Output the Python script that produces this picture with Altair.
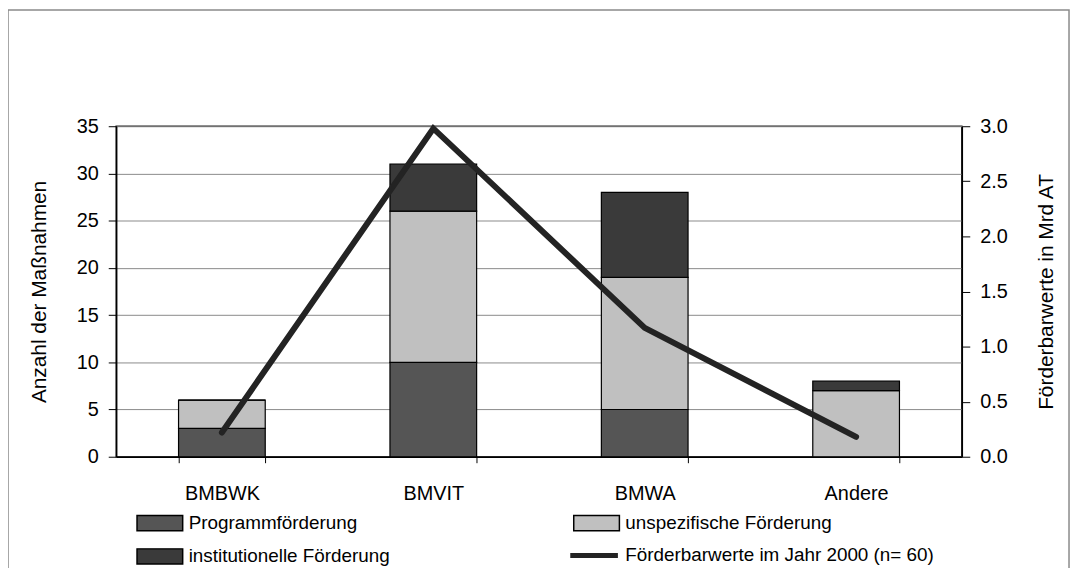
import altair as alt
import pandas as pd

categories = ["BMBWK", "BMVIT", "BMWA", "Andere"]
series = ["Programmförderung", "unspezifische Förderung", "institutionelle Förderung"]
legend_order = ["Programmförderung", "institutionelle Förderung", "unspezifische Förderung"]
series_colors = {"Programmförderung": "#555555", "unspezifische Förderung": "#c0c0c0",
                 "institutionelle Förderung": "#3a3a3a"}
programm = [3, 10, 5, 0]
unspezifisch = [3, 16, 14, 7]
institutionell = [0, 5, 9, 1]
barwerte = [0.22, 2.98, 1.17, 0.18]
line_name = "Förderbarwerte im Jahr 2000 (n= 60)"
left_ticks = [0, 5, 10, 15, 20, 25, 30, 35]
right_ticks = [0.0, 0.5, 1.0, 1.5, 2.0, 2.5, 3.0]

rows = []
for i, c in enumerate(categories):
    for k, (s, vals) in enumerate(zip(series, [programm, unspezifisch, institutionell])):
        rows.append({"kat": c, "serie": s, "anzahl": vals[i], "ord": k})
bars_df = pd.DataFrame(rows)
line_df = pd.DataFrame({"kat": categories, "wert": barwerte, "name": [line_name] * 4})

FONT = "Liberation Sans"
xscale = alt.Scale(domain=categories, paddingInner=0.59, paddingOuter=0.295)

bars = alt.Chart(bars_df).mark_bar(stroke="black", strokeWidth=1.2).encode(
    x=alt.X("kat:N", scale=xscale, sort=categories,
            axis=alt.Axis(title=None, labelAngle=0, tickBand="extent", tickSize=6,
                          labelPadding=21, labelFontSize=20, labelFont=FONT,
                          labelColor="black", domainColor="black", tickColor="black",
                          domainWidth=1.5, grid=False)),
    y=alt.Y("anzahl:Q", stack="zero", scale=alt.Scale(domain=[0, 35], nice=False),
            axis=alt.Axis(title="Anzahl der Maßnahmen", values=left_ticks, tickSize=8,
                          labelPadding=10, labelFontSize=20, labelFont=FONT,
                          labelColor="black", titleFontSize=21, titleFont=FONT,
                          titleFontWeight="normal", titleColor="black", titlePadding=27,
                          domainColor="black", domainWidth=1.5, tickColor="black",
                          grid=True, gridColor="#8a8a8a", gridWidth=1)),
    order=alt.Order("ord:Q"),
    color=alt.Color("serie:N",
                    scale=alt.Scale(domain=legend_order,
                                    range=[series_colors[s] for s in legend_order]),
                    legend=alt.Legend(title=None, orient="none", legendX=31.5, legendY=387,
                                      columns=2, columnPadding=181, rowPadding=10,
                                      symbolType="M-2,-0.667H2V0.667H-2Z", symbolSize=529,
                                      symbolStrokeColor="black", symbolStrokeWidth=1.5,
                                      symbolOpacity=1,
                                      labelFontSize=19, labelFont=FONT, labelColor="black",
                                      labelOffset=16.5, labelLimit=400, padding=0)),
)

line = alt.Chart(line_df).mark_line(strokeWidth=6, strokeCap="round", strokeJoin="miter").encode(
    x=alt.X("kat:N", scale=xscale, sort=categories),
    y=alt.Y("wert:Q", scale=alt.Scale(domain=[0, 3], nice=False),
            axis=alt.Axis(title="Förderbarwerte in Mrd AT", orient="right", values=right_ticks,
                          format=".1f", tickSize=8, labelPadding=10, labelFontSize=20,
                          labelFont=FONT, labelColor="black", titleFontSize=21, titleFont=FONT,
                          titleFontWeight="normal", titleColor="black", titlePadding=50,
                          titleAngle=270, domainColor="black", domainWidth=1.5,
                          tickColor="black", grid=False)),
    stroke=alt.Stroke("name:N", scale=alt.Scale(domain=[line_name], range=["#232323"]),
                      legend=alt.Legend(title=None, orient="none", legendX=467, legendY=418,
                                        symbolType="M-2,0H2", symbolSize=576,
                                        symbolStrokeWidth=5, labelFontSize=19, labelFont=FONT,
                                        labelColor="black", labelOffset=17, labelLimit=400,
                                        padding=0)),
)

border = alt.Chart(pd.DataFrame({"a": [0]})).mark_rect(
    fill=None, stroke="#8a8a8a", strokeWidth=1.5
).encode(x=alt.value(-109), x2=alt.value(960), y=alt.value(-117), y2=alt.value(470))

chart = alt.layer(border, bars, line).resolve_scale(y="independent", color="independent", stroke="independent").properties(
    width=852, height=333,
    autosize=alt.AutoSizeParams(type="none"),
    padding={"left": 109, "top": 117, "right": 110, "bottom": 112},
    background="white",
).configure_view(stroke="#222", strokeWidth=1.5)

chart.save("out.html", embed_options={"renderer": "svg", "actions": False})
